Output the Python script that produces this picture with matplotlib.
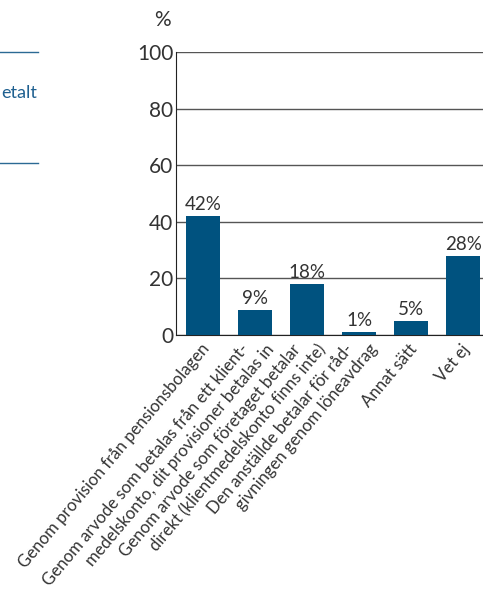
import matplotlib
matplotlib.use("Agg")
import matplotlib.pyplot as plt
from matplotlib.lines import Line2D
from matplotlib.transforms import offset_copy

# data
kategorier = [
    "Genom provision från pensionsbolagen",
    "Genom arvode som betalas från ett klient-\nmedelskonto, dit provisioner betalas in",
    "Genom arvode som företaget betalar\ndirekt (klientmedelskonto finns inte)",
    "Den anställde betalar för råd-\ngivningen genom löneavdrag",
    "Annat sätt",
    "Vet ej",
]
andel = [42, 9, 18, 1, 5, 28]
yticks = [0, 20, 40, 60, 80, 100]

BLA = "#00527f"
GRA = "#333333"
plt.rcParams["font.family"] = ["Lato", "DejaVu Sans"]

fig = plt.figure(figsize=(4.83, 6.03), dpi=100)
ax = fig.add_axes([176/483, 1 - 335/603, 1 - 176/483, (335 - 52)/603])

x = list(range(len(andel)))
bars = ax.bar(x, andel, width=0.65, color=BLA, zorder=3)
ax.bar_label(bars, labels=[f"{v}%" for v in andel], padding=2,
             fontsize=13.5, color=GRA)

ax.set_ylim(0, 100)
ax.set_xlim(-0.52, 5.38)
ax.set_yticks(yticks)
ax.set_yticklabels([str(v) for v in yticks], fontsize=15, color=GRA)
ax.yaxis.grid(True, color="#555555", linewidth=1.0, zorder=0)
ax.set_axisbelow(True)
ax.tick_params(axis="y", length=0, pad=2)
ax.set_xticks(x)
ax.set_xticklabels([])
ax.tick_params(axis="x", length=0)

# kategorietiketter, varje rad för sig, förskjutna i sidled
trans = ax.get_xaxis_transform()
for xi, lab in zip(x, kategorier):
    rader = lab.split("\n")
    n = len(rader)
    for i, rad in enumerate(rader):
        dx = (i - (n - 1) / 2) * 25 - 3
        t = offset_copy(trans, fig=fig, x=dx, y=-6, units="dots")
        ax.text(xi, 0, rad, transform=t, rotation=50, rotation_mode="anchor",
                ha="right", va="top", fontsize=12.1, color=GRA, clip_on=False)

for s in ["top", "right"]:
    ax.spines[s].set_visible(False)
ax.spines["left"].set_color("#222222")
ax.spines["bottom"].set_color("#222222")

fig.text(162/483, 1 - 20/603, "%", fontsize=15, color=GRA,
         ha="center", va="center")

# rest av grannfiguren till vänster
for yy in [52, 163]:
    fig.add_artist(Line2D([0, 38/483], [1 - yy/603, 1 - yy/603],
                          color="#2b6a94", linewidth=1.0))
fig.text(1/483, 1 - 93/603, "etalt", fontsize=13, color="#1f6090",
         ha="left", va="center")

fig.savefig("out.png", dpi=100)
